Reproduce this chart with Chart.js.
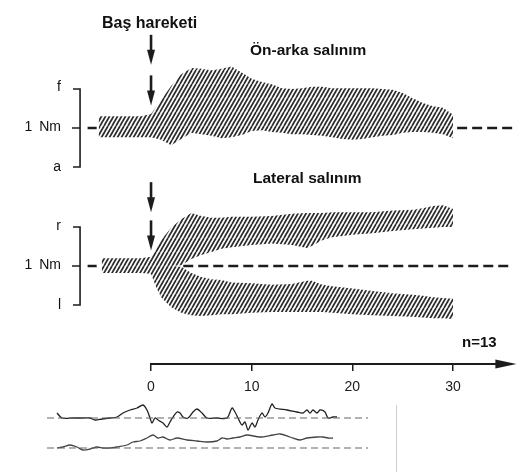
<!DOCTYPE html>
<html lang="tr">
<head>
<meta charset="UTF-8">
<title>Baş hareketi - salınım</title>
<script src="https://cdn.jsdelivr.net/npm/chart.js"></script>
<style>
  body { margin: 0; background: #fff; font-family: "Liberation Sans", Arial, sans-serif; }
  #wrap { position: relative; width: 524px; height: 472px; overflow: hidden; background: #fff; }
  canvas { position: absolute; left: 0; }
  .lbl { position: absolute; line-height: 1; color: #111; white-space: nowrap; }
  .b { font-weight: bold; }
  .side { font-size: 14px; text-align: right; width: 50px; left: 11px; }
  #frame { position: absolute; left: 396px; top: 405px; width: 0; height: 67px; border-left: 1.5px solid #cfcfcf; }
</style>
</head>
<body>
<div id="wrap">
  <canvas id="main" width="524" height="340" style="top:0"></canvas>
  <canvas id="axis" width="524" height="70" style="top:330px"></canvas>
  <canvas id="inset" width="524" height="70" style="top:395px"></canvas>
  <div id="frame"></div>

  <div class="lbl b" style="left:102px;top:15px;font-size:16px">Baş hareketi</div>
  <div class="lbl b" style="left:250px;top:42px;font-size:15.5px">Ön-arka salınım</div>
  <div class="lbl b" style="left:253px;top:170px;font-size:15.5px">Lateral salınım</div>
  <div class="lbl b" style="left:462px;top:334px;font-size:15px">n=13</div>

  <div class="lbl side" style="top:79px">f</div>
  <div class="lbl side" style="top:119px;word-spacing:3px">1 Nm</div>
  <div class="lbl side" style="top:159px">a</div>
  <div class="lbl side" style="top:218px">r</div>
  <div class="lbl side" style="top:257px;word-spacing:3px">1 Nm</div>
  <div class="lbl side" style="top:297px">l</div>
</div>

<script>
// --- data (time in s, torque in Nm) ---
const tTop = [-5.2, -1, 0, 1, 2, 3, 4, 5, 6, 7, 8, 9, 10, 11, 12, 13, 14, 15, 16, 17, 18, 19, 20, 21, 22, 23, 24, 25, 26, 27, 28, 29, 30];
const topUpper = [0.15, 0.15, 0.18, 0.36, 0.54, 0.69, 0.77, 0.76, 0.74, 0.76, 0.79, 0.71, 0.63, 0.59, 0.56, 0.51, 0.50, 0.51, 0.53, 0.53, 0.51, 0.51, 0.51, 0.51, 0.51, 0.50, 0.49, 0.45, 0.38, 0.32, 0.28, 0.26, 0.17];
const topLower = [-0.12, -0.12, -0.12, -0.15, -0.22, -0.14, -0.06, -0.08, -0.10, -0.13, -0.12, -0.09, -0.04, -0.03, -0.05, -0.06, -0.08, -0.08, -0.09, -0.10, -0.12, -0.14, -0.15, -0.14, -0.12, -0.10, -0.09, -0.06, -0.05, -0.05, -0.06, -0.08, -0.13];

const tLat = [-4.9, -1, 0, 0.5, 1, 2, 3, 4, 5, 6, 7, 8, 10, 12, 14, 15.5, 16, 17, 18, 20, 22, 24, 26, 27, 28, 29, 30];
const latUpperTop = [0.10, 0.10, 0.12, 0.23, 0.33, 0.49, 0.60, 0.68, 0.64, 0.62, 0.62, 0.63, 0.63, 0.64, 0.67, 0.68, 0.68, 0.68, 0.69, 0.69, 0.69, 0.71, 0.72, 0.74, 0.77, 0.78, 0.73];
const latUpperInner = [0, 0, 0, 0, 0, 0, 0.01, 0.09, 0.14, 0.18, 0.22, 0.24, 0.27, 0.29, 0.27, 0.23, 0.26, 0.33, 0.37, 0.40, 0.42, 0.45, 0.47, 0.48, 0.49, 0.50, 0.50];
const latLowerInner = [0, 0, 0, 0, 0, 0, -0.01, -0.09, -0.14, -0.17, -0.18, -0.21, -0.22, -0.24, -0.23, -0.19, -0.19, -0.24, -0.26, -0.29, -0.32, -0.35, -0.37, -0.38, -0.40, -0.41, -0.42];
const latLowerBottom = [-0.09, -0.09, -0.10, -0.27, -0.40, -0.53, -0.60, -0.63, -0.64, -0.63, -0.62, -0.62, -0.60, -0.59, -0.59, -0.59, -0.59, -0.59, -0.60, -0.62, -0.63, -0.64, -0.65, -0.66, -0.67, -0.67, -0.68];

const restTop = [30.4, 35.9];      // dashed rest level after recording (s)
const restLat = [3.2, 35.9];
const restLead = [-6.3, -5.4];     // short lead-in dash
const timeTicks = [0, 10, 20, 30];

// inset traces (arbitrary units)
const insetT1 = [0, 0.5, 1.6, 2.6, 3.3, 3.8, 4.5, 5.3, 6.0, 6.6, 7.3, 8.0, 8.6, 9.0, 9.3, 9.5, 9.8, 10.1, 10.6, 11.0, 11.3, 11.6, 12.0, 12.3, 12.6, 13.1, 13.6, 14.0, 14.5, 15.0, 16.0, 17.0, 17.5, 17.8, 18.1, 18.5, 18.8, 19.1, 19.5, 19.8, 20.1, 20.5, 20.8, 21.1, 21.5, 21.8, 23.0, 24.0, 24.6, 25.0, 25.3, 25.6, 26.0, 26.3, 26.8, 27.1, 27.6, 28.0];
const insetA = [0.5, 0, 0, 0, 0, -0.2, -0.1, 0, 0.1, 0.5, 0.8, 1.0, 1.3, 0.8, 0, -0.5, 0, -0.2, -0.5, -0.9, -0.4, 0.1, 0.6, 0.5, 0.1, 0, 0.6, 0.9, 0.5, 0, 0, 0, 1.0, 0.6, 0, -0.7, -0.4, -1.2, -0.5, -0.9, -0.2, 0.5, 0.1, 0.5, 1.4, 1.0, 0.8, 0.6, 0.5, 0.8, 0.5, 0.8, 0.5, 0.8, 0.6, 0, 0.1, 0.1];
const insetT2 = [0, 0.6, 1.3, 2.0, 2.6, 3.3, 4.0, 4.6, 5.3, 6.0, 7.0, 7.6, 8.3, 9.0, 9.6, 10.1, 10.6, 11.3, 12.0, 13.0, 14.0, 15.0, 16.0, 16.5, 17.0, 17.6, 18.3, 19.0, 20.3, 21.6, 22.3, 23.3, 24.3, 25.0, 26.0, 26.6, 27.1, 27.6];
const insetB = [0, 0.1, 0.3, 0.1, -0.2, -0.1, 0.1, 0, 0, 0.1, 0.3, 0.6, 0.7, 1.0, 1.3, 1.0, 1.1, 0.8, 1.0, 0.8, 0.7, 0.6, 0.7, 1.0, 0.9, 1.0, 1.1, 1.3, 1.1, 1.3, 1.4, 1.1, 0.8, 1.0, 1.1, 1.1, 1.0, 1.0];
const insetRest = [-1, 31.1];

const INK = '#1c1c1c';
const FONT = '"Liberation Sans", Arial, sans-serif';

// diagonal hatch used for the bands
function makeHatch() {
    const c = document.createElement('canvas');
    c.width = 8; c.height = 14;
    const g = c.getContext('2d');
    g.strokeStyle = '#2a2a2a';
    g.lineWidth = 1.7;
    for (let k = -3; k <= 3; k++) {
        g.beginPath();
        g.moveTo(k * 4, 14);
        g.lineTo(k * 4 + 8, 0);
        g.stroke();
    }
    return g.createPattern(c, 'repeat');
}
const hatch = makeHatch();

const pts = (ts, vs) => ts.map((t, i) => ({ x: t, y: vs[i] }));
const span = (r) => [{ x: r[0], y: 0 }, { x: r[1], y: 0 }];

function edge(data, axis, fill) {
    return {
        data, yAxisID: axis, fill: fill ? '-1' : false,
        backgroundColor: hatch, borderColor: 'rgba(0,0,0,0)', borderWidth: 0,
        pointRadius: 0, tension: 0
    };
}
function rest(data, axis, dashed) {
    return {
        data, yAxisID: axis, fill: false, borderColor: INK, borderWidth: 2.5,
        borderDash: dashed ? [10, 5] : [], pointRadius: 0
    };
}

// brackets + "Baş hareketi" arrows
const PX_PER_NM = 78;
const annot = {
    id: 'annot',
    afterDatasetsDraw(chart) {
        const { ctx, scales } = chart;
        const x = scales.x;
        ctx.save();
        ctx.strokeStyle = INK;
        ctx.fillStyle = INK;
        ['yTop', 'yLat'].forEach(id => {
            const ys = scales[id];
            const xr = x.getPixelForValue(-7.05), xl = x.getPixelForValue(-7.75);
            const y1 = ys.getPixelForValue(0.5), y0 = ys.getPixelForValue(0), y2 = ys.getPixelForValue(-0.5);
            ctx.lineWidth = 1.6;
            ctx.beginPath();
            ctx.moveTo(xl, y1); ctx.lineTo(xr, y1); ctx.lineTo(xr, y2); ctx.lineTo(xl, y2);
            ctx.moveTo(xl - 1, y0); ctx.lineTo(xr, y0);
            ctx.stroke();
        });
        const arrows = [['yTop', 0.81], ['yTop', 0.29], ['yLat', 0.69], ['yLat', 0.2]];
        const ax = x.getPixelForValue(0);
        arrows.forEach(([id, tip]) => {
            const yt = scales[id].getPixelForValue(tip);
            ctx.lineWidth = 2.6;
            ctx.beginPath();
            ctx.moveTo(ax, yt - 30); ctx.lineTo(ax, yt - 8);
            ctx.stroke();
            ctx.beginPath();
            ctx.moveTo(ax - 4, yt - 15); ctx.lineTo(ax + 4, yt - 15); ctx.lineTo(ax, yt);
            ctx.closePath();
            ctx.fill();
        });
        ctx.restore();
    }
};

const H = 340;
new Chart(document.getElementById('main'), {
    type: 'line',
    data: {
        datasets: [
            edge(pts(tTop, topUpper), 'yTop', false),
            edge(pts(tTop, topLower), 'yTop', true),
            edge(pts(tLat, latUpperTop), 'yLat', false),
            edge(pts(tLat, latUpperInner), 'yLat', true),
            edge(pts(tLat, latLowerInner), 'yLat', false),
            edge(pts(tLat, latLowerBottom), 'yLat', true),
            rest(span(restTop), 'yTop', true),
            rest(span(restLead), 'yTop', false),
            rest(span(restLat), 'yLat', true),
            rest(span(restLead), 'yLat', false)
        ]
    },
    options: {
        responsive: false,
        animation: false,
        layout: { padding: 0 },
        plugins: { legend: { display: false }, tooltip: { enabled: false } },
        scales: {
            x: { type: 'linear', display: false, min: -15, max: 37.04 },
            yTop: { display: false, min: -(H - 128) / PX_PER_NM, max: 128 / PX_PER_NM },
            yLat: { display: false, min: -(H - 266) / PX_PER_NM, max: 266 / PX_PER_NM }
        }
    },
    plugins: [annot]
});

// time axis with arrow head
const arrowHead = {
    id: 'arrowHead',
    afterDraw(chart) {
        const { ctx, chartArea, scales: { x } } = chart;
        const y = chartArea.bottom;
        const x0 = x.getPixelForValue(34.2), x1 = x.getPixelForValue(36.3);
        ctx.save();
        ctx.fillStyle = INK;
        ctx.beginPath();
        ctx.moveTo(x0, y - 4.5); ctx.lineTo(x1, y); ctx.lineTo(x0, y + 4.5);
        ctx.closePath();
        ctx.fill();
        ctx.restore();
    }
};
new Chart(document.getElementById('axis'), {
    type: 'scatter',
    data: { datasets: [] },
    options: {
        responsive: false,
        animation: false,
        layout: { padding: { left: 151, right: 20.6, top: 0, bottom: 2 } },
        plugins: { legend: { display: false }, tooltip: { enabled: false } },
        scales: {
            x: {
                type: 'linear', min: 0, max: 35, position: 'bottom',
                afterBuildTicks: s => { s.ticks = timeTicks.map(v => ({ value: v })); },
                grid: { drawOnChartArea: false, drawTicks: true, tickLength: 7, color: INK, lineWidth: 1.5 },
                border: { display: true, color: INK, width: 2 },
                ticks: { color: INK, font: { family: FONT, size: 14 }, padding: 8, maxRotation: 0 }
            },
            y: { display: false, min: 0, max: 1 }
        }
    },
    plugins: [arrowHead]
});

// small inset with two raw traces
const IH = 70;
function trace(data, axis, color) {
    return { data, yAxisID: axis, borderColor: color, borderWidth: 1.3, pointRadius: 0, tension: 0.3, fill: false };
}
function base(axis) {
    return { data: span(insetRest), yAxisID: axis, borderColor: '#666', borderWidth: 1.2, borderDash: [7, 4], pointRadius: 0, fill: false };
}
new Chart(document.getElementById('inset'), {
    type: 'line',
    data: {
        datasets: [
            base('yA'), base('yB'),
            trace(pts(insetT1, insetA), 'yA', '#222'),
            trace(pts(insetT2, insetB), 'yB', '#444')
        ]
    },
    options: {
        responsive: false,
        animation: false,
        layout: { padding: 0 },
        plugins: { legend: { display: false }, tooltip: { enabled: false } },
        scales: {
            x: { type: 'linear', display: false, min: -5.7, max: 46.7 },
            yA: { display: false, min: -(IH - 23) / 10, max: 23 / 10 },
            yB: { display: false, min: -(IH - 53) / 10, max: 53 / 10 }
        }
    }
});
</script>
</body>
</html>
